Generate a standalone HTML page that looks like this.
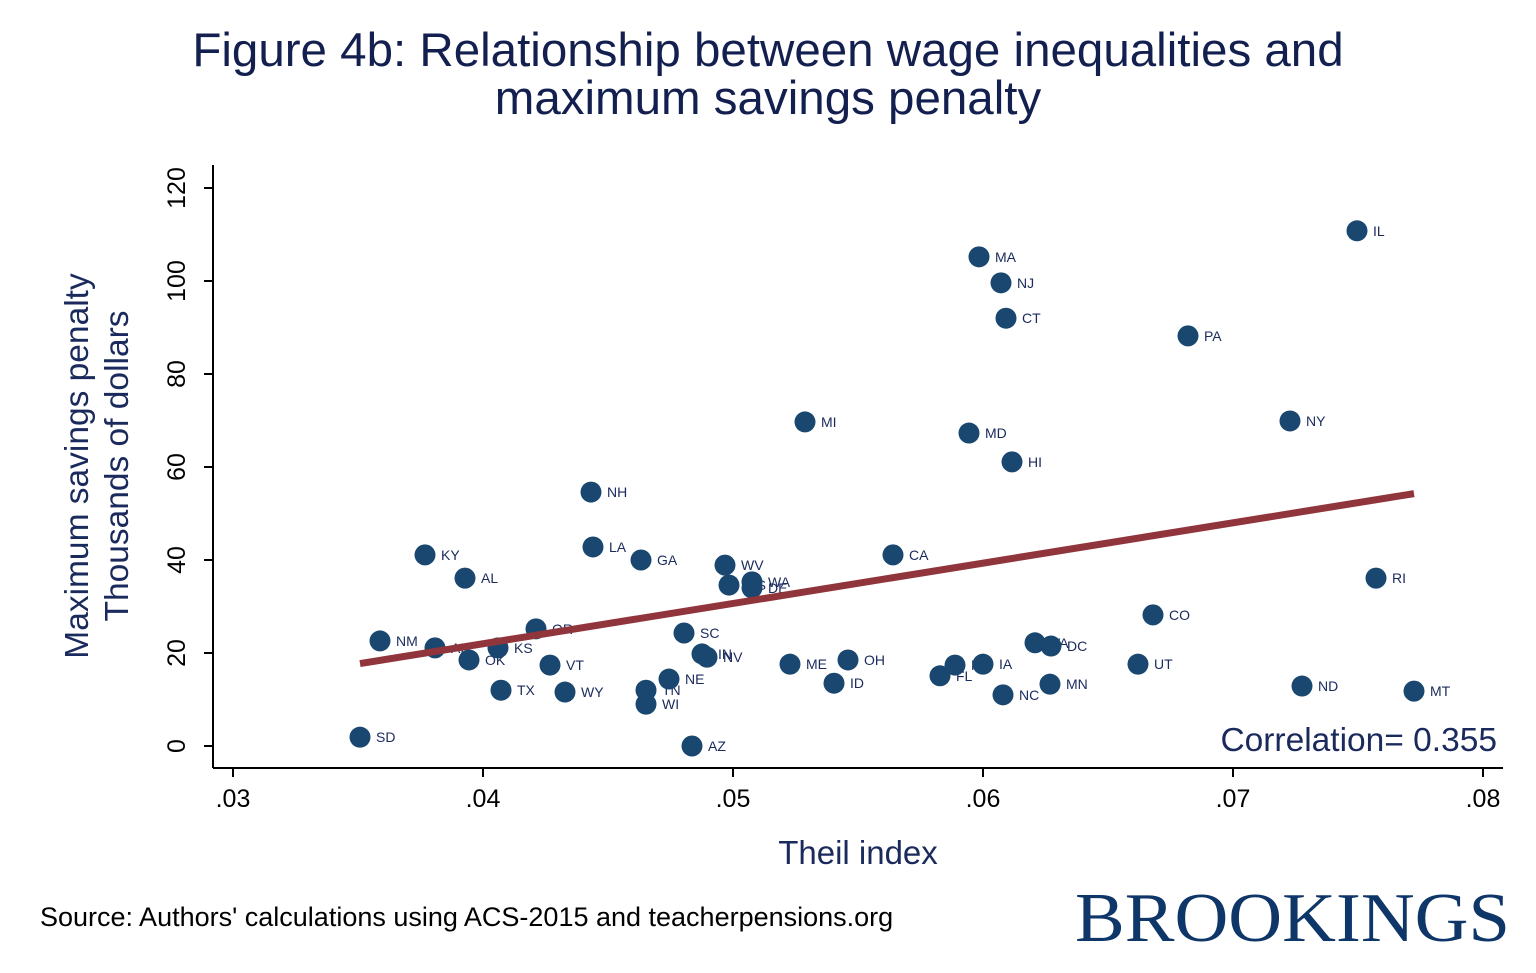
<!DOCTYPE html>
<html><head><meta charset="utf-8"><style>
body{margin:0;background:#fff;}
svg{display:block;font-family:"Liberation Sans",sans-serif;}
</style></head><body>
<svg id="chart" width="1536" height="973" viewBox="0 0 1536 973">
<text x="768" y="66" text-anchor="middle" font-size="47.5" fill="#13204f">Figure 4b: Relationship between wage inequalities and</text>
<text x="768" y="114" text-anchor="middle" font-size="47.5" fill="#13204f">maximum savings penalty</text>
<g id="axes"></g>
<g id="labels"></g>
<g id="marks"></g>
<text transform="translate(88,466) rotate(-90)" text-anchor="middle" font-size="33.5" fill="#1a2a5c">Maximum savings penalty</text>
<text transform="translate(128,466) rotate(-90)" text-anchor="middle" font-size="33.5" fill="#1a2a5c">Thousands of dollars</text>
<text x="858" y="864" text-anchor="middle" font-size="33" fill="#1a2a5c">Theil index</text>
<text x="1497" y="751" text-anchor="end" font-size="33.5" fill="#1a2a5c">Correlation= 0.355</text>
<text x="40" y="926" font-size="27" fill="#000">Source: Authors' calculations using ACS-2015 and teacherpensions.org</text>
<text x="1075" y="941" font-size="70" font-family="'Liberation Serif',serif" fill="#0f3668" textLength="435" lengthAdjust="spacingAndGlyphs">BROOKINGS</text>
</svg>
<script>
const states=["SD","NM","AR","OK","KS","TX","OR","VT","WY","KY","AL","NH","LA","GA","WV","MS","WA","DE","SC","IN","NV","NE","TN","WI","AZ","MI","ME","OH","ID","CA","MD","MA","NJ","CT","HI","FL","MO","IA","NC","VA","DC","MN","UT","CO","PA","NY","IL","RI","ND","MT"];
const theil=[.03508,.03588,.03808,.03944,.0406,.04072,.04212,.04268,.04328,.03768,.03928,.04432,.0444,.04632,.04968,.04984,.05076,.05076,.04804,.04876,.04896,.04744,.04652,.04652,.04836,.05288,.05228,.0546,.05404,.0564,.05944,.05984,.06072,.06092,.06116,.05828,.05888,.06,.0608,.06208,.06272,.06268,.0662,.0668,.0682,.07228,.07496,.07572,.07276,.07724];
const penalty=[1.9,22.6,21.1,18.5,21.1,12.0,25.2,17.4,11.6,41.1,36.1,54.6,42.8,40.0,38.9,34.6,35.3,34.0,24.3,19.8,19.1,14.4,12.0,9.0,0,69.7,17.6,18.5,13.5,41.1,67.3,105.2,99.6,92.0,61.1,15.1,17.4,17.6,11.0,22.2,21.5,13.3,17.6,28.2,88.2,69.9,110.8,36.1,12.9,11.8];
const xTicks=[.03,.04,.05,.06,.07,.08];
const xTickLabels=[".03",".04",".05",".06",".07",".08"];
const yTicks=[0,20,40,60,80,100,120];
const ns="http://www.w3.org/2000/svg";
const X=v=>233+(v-.03)*25000;
const Y=v=>746-v*4.65;
function mk(tag,attrs,parent){const e=document.createElementNS(ns,tag);for(const k in attrs)e.setAttribute(k,attrs[k]);parent.appendChild(e);return e;}
const ax=document.getElementById('axes'),lb=document.getElementById('labels'),mg=document.getElementById('marks');
let l=mk('line',{x1:213,y1:165,x2:213,y2:768,stroke:'#000','stroke-width':2},ax);


l=mk('line',{x1:213,y1:768,x2:1503,y2:768,stroke:'#000','stroke-width':2},ax);


xTicks.forEach((t,i)=>{
  const tk=mk('line',{x1:X(t),y1:768,x2:X(t),y2:777,stroke:'#000','stroke-width':2},ax);
  
  
  const tx=mk('text',{x:X(t),y:807,'text-anchor':'middle','font-size':25,fill:'#000'},ax);
  tx.textContent=xTickLabels[i];
  
  
});
yTicks.forEach(t=>{
  const tk=mk('line',{x1:204,y1:Y(t),x2:213,y2:Y(t),stroke:'#000','stroke-width':2},ax);
  
  
  const tx=mk('text',{transform:`translate(185,${Y(t)}) rotate(-90)`,'text-anchor':'middle','font-size':25,fill:'#000'},ax);
  tx.textContent=t;
  
  
});
states.forEach((s,i)=>{
  const t=mk('text',{x:X(theil[i])+16,y:Y(penalty[i])+5,'font-size':14,fill:'#1a2a5c'},lb);
  t.textContent=s;
  
  
  const c=mk('circle',{cx:X(theil[i]),cy:Y(penalty[i]),r:10.5,fill:'#1a476f'},mg);
  
  
});
// OLS fit
const n=theil.length;let mx=0,my=0;for(let i=0;i<n;i++){mx+=theil[i];my+=penalty[i];}mx/=n;my/=n;
let sxy=0,sxx=0;for(let i=0;i<n;i++){sxy+=(theil[i]-mx)*(penalty[i]-my);sxx+=(theil[i]-mx)**2;}
const b=sxy/sxx,a=my-b*mx;const x0=Math.min(...theil),x1=Math.max(...theil);
const fl=mk('line',{x1:X(x0),y1:Y(a+b*x0),x2:X(x1),y2:Y(a+b*x1),stroke:'#90353b','stroke-width':7},mg);


</script>
</body></html>
